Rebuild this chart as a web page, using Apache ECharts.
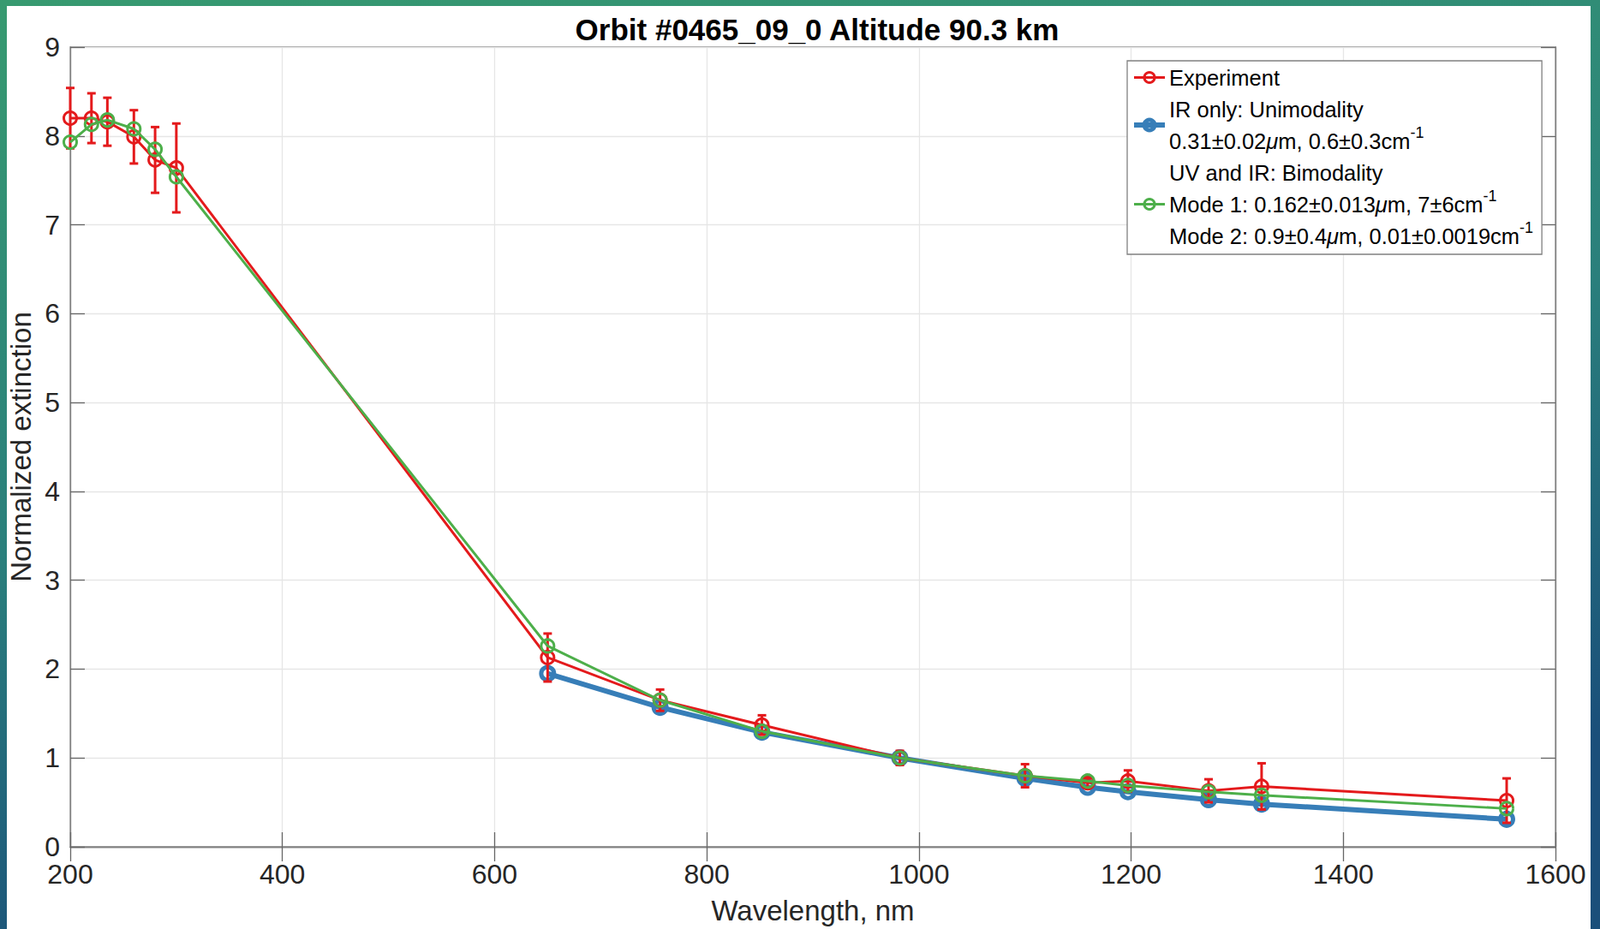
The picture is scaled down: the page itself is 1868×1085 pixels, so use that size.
<!DOCTYPE html>
<html>
<head>
<meta charset="utf-8">
<script src="https://cdn.jsdelivr.net/npm/echarts@6/dist/echarts.min.js"></script>
<style>
  html, body { margin: 0; padding: 0; }
  #chart { width: 1868px; height: 1085px; }
</style>
</head>
<body>
<div id="chart"></div>
<script>
// wavelengths, nm
const wavelengths = [200, 220, 235, 260, 280, 300, 650, 756, 852, 982, 1100, 1159, 1197, 1273, 1323, 1554];
// measured normalized extinction and its error
const experiment = [8.20, 8.20, 8.16, 7.99, 7.73, 7.64, 2.13, 1.65, 1.37, 1.00, 0.80, 0.72, 0.74, 0.63, 0.68, 0.52];
const experimentErr = [0.34, 0.28, 0.27, 0.30, 0.37, 0.50, 0.27, 0.12, 0.11, 0.08, 0.13, 0.05, 0.12, 0.13, 0.26, 0.25];
// IR only fit (starts at 650 nm)
const irWavelengths = [650, 756, 852, 982, 1100, 1159, 1197, 1273, 1323, 1554];
const irOnly = [1.95, 1.57, 1.29, 1.00, 0.77, 0.67, 0.62, 0.53, 0.48, 0.31];
// UV and IR bimodal fit
const bimodal = [7.93, 8.13, 8.18, 8.08, 7.85, 7.54, 2.26, 1.65, 1.30, 1.00, 0.80, 0.74, 0.69, 0.62, 0.58, 0.43];

const RED = "#e41a1c";
const BLUE = "#377eb8";
const GREEN = "#4daf4a";
const FONT = "Liberation Sans";
const NONE = "rgba(0,0,0,0)";

const chart = echarts.init(document.getElementById("chart"), null, { renderer: "svg" });

const expData = wavelengths.map((w, i) => [w, experiment[i]]);
const errData = wavelengths.map((w, i) => [w, experiment[i] - experimentErr[i], experiment[i] + experimentErr[i]]);
const irData = irWavelengths.map((w, i) => [w, irOnly[i]]);
const biData = wavelengths.map((w, i) => [w, bimodal[i]]);

const axisLine = { show: true, lineStyle: { color: "#808080", width: 1.3 } };
const tick = { show: true, inside: true, length: 17, lineStyle: { color: "#666", width: 1.3 } };

const option = {
  backgroundColor: {
    type: "linear", x: 0, y: 0, x2: 0.3, y2: 1,
    colorStops: [
      { offset: 0, color: "#379a70" },
      { offset: 0.55, color: "#2a7f7c" },
      { offset: 1, color: "#1a4f7a" }
    ]
  },
  textStyle: { fontFamily: FONT },
  graphic: [{
    type: "rect", z: -10, silent: true,
    shape: { x: 8, y: 7, width: 1849, height: 1078 },
    style: { fill: "#fff" }
  }],
  title: {
    text: "Orbit #0465_09_0 Altitude 90.3 km",
    left: 949, top: 12, textAlign: "center",
    textStyle: { fontFamily: FONT, fontSize: 35, fontWeight: "bold", color: "#000" }
  },
  grid: { left: 82, right: 52, top: 55, bottom: 95, show: true, borderColor: "#808080", borderWidth: 1.3, backgroundColor: "#fff" },
  xAxis: [{
    type: "value", min: 200, max: 1600, interval: 200,
    name: "Wavelength, nm", nameLocation: "middle", nameGap: 58,
    nameTextStyle: { fontFamily: FONT, fontSize: 33, color: "#262626" },
    axisLine: axisLine, axisTick: tick,
    axisLabel: { fontFamily: FONT, fontSize: 32, color: "#262626", margin: 17, lineHeight: 30, formatter: (v) => String(v) },
    splitLine: { show: true, lineStyle: { color: "#e6e6e6", width: 1.3 } }
  }, {
    type: "value", position: "top", min: 200, max: 1600, interval: 200,
    axisLine: axisLine, axisTick: tick, axisLabel: { show: false }, splitLine: { show: false }
  }],
  yAxis: [{
    type: "value", min: 0, max: 9, interval: 1,
    name: "Normalized extinction", nameLocation: "middle", nameGap: 33,
    nameTextStyle: { fontFamily: FONT, fontSize: 33, color: "#262626" },
    axisLine: axisLine, axisTick: tick,
    axisLabel: { fontFamily: FONT, fontSize: 32, color: "#262626", margin: 12, lineHeight: 28 },
    splitLine: { show: true, lineStyle: { color: "#e6e6e6", width: 1.3 } }
  }, {
    type: "value", position: "right", min: 0, max: 9, interval: 1,
    axisLine: axisLine, axisTick: tick, axisLabel: { show: false }, splitLine: { show: false }
  }],
  legend: {
    orient: "vertical",
    left: 1316, top: 71,
    padding: [1, 10, 3, 5],
    itemGap: 0,
    itemWidth: 36, itemHeight: 15,
    backgroundColor: "#fff",
    borderColor: "#808080", borderWidth: 1.3,
    data: [
      { name: "Experiment", lineStyle: { width: 3 }, itemStyle: { borderWidth: 3 } },
      { name: "IR only", lineStyle: { width: 6 }, itemStyle: { borderWidth: 5 } },
      { name: "Bimodal", lineStyle: { width: 3 }, itemStyle: { borderWidth: 3 } }
    ],
    formatter: (name) => {
      if (name === "IR only") {
        return "IR only: Unimodality\n0.31±0.02{mu|μ}m, 0.6±0.3cm{sup|-1}";
      }
      if (name === "Bimodal") {
        return "UV and IR: Bimodality\nMode 1: 0.162±0.013{mu|μ}m, 7±6cm{sup|-1}\nMode 2: 0.9±0.4{mu|μ}m, 0.01±0.0019cm{sup|-1}";
      }
      return name;
    },
    textStyle: {
      fontFamily: FONT, fontSize: 25.5, color: "#000", lineHeight: 37,
      rich: {
        mu: { fontFamily: FONT, fontSize: 25.5, fontStyle: "italic", color: "#000", lineHeight: 37 },
        sup: { fontFamily: FONT, fontSize: 18, color: "#000", verticalAlign: "top", lineHeight: 20 }
      }
    }
  },
  series: [
    {
      name: "IR only", type: "line", data: irData, z: 2,
      symbol: "circle", symbolSize: 15,
      lineStyle: { color: BLUE, width: 6 },
      itemStyle: { color: NONE, borderColor: BLUE, borderWidth: 5 }
    },
    {
      name: "Experiment", type: "line", data: expData, z: 3,
      symbol: "circle", symbolSize: 15,
      lineStyle: { color: RED, width: 3 },
      itemStyle: { color: NONE, borderColor: RED, borderWidth: 3 }
    },
    {
      name: "Experiment", type: "custom", data: errData, z: 3,
      encode: { x: 0, y: [1, 2] },
      renderItem: (params, api) => {
        const x = api.value(0);
        const top = api.coord([x, api.value(2)]);
        const bot = api.coord([x, api.value(1)]);
        const h = 5;
        const st = { stroke: RED, lineWidth: 3 };
        return {
          type: "group",
          children: [
            { type: "line", shape: { x1: top[0], y1: top[1], x2: bot[0], y2: bot[1] }, style: st },
            { type: "line", shape: { x1: top[0] - h, y1: top[1], x2: top[0] + h, y2: top[1] }, style: st },
            { type: "line", shape: { x1: bot[0] - h, y1: bot[1], x2: bot[0] + h, y2: bot[1] }, style: st }
          ]
        };
      }
    },
    {
      name: "Bimodal", type: "line", data: biData, z: 4,
      symbol: "circle", symbolSize: 15,
      lineStyle: { color: GREEN, width: 3 },
      itemStyle: { color: NONE, borderColor: GREEN, borderWidth: 3 }
    }
  ]
};

chart.setOption(option);
</script>
</body>
</html>
